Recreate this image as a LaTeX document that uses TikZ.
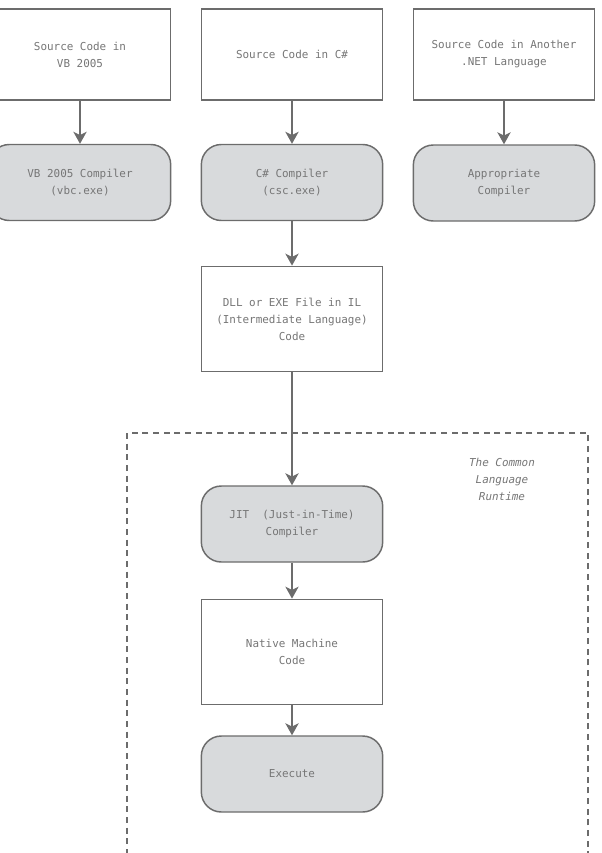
\documentclass[tikz,border=0pt]{standalone}
\usepackage{fontspec}
\setmonofont{DejaVu Sans Mono}
\usepackage{tikz}
\usetikzlibrary{arrows.meta}
\usepackage{xcolor}
\definecolor{edgegray}{RGB}{108, 108, 108}
\definecolor{textgray}{RGB}{118, 118, 118}
\definecolor{boxfill}{RGB}{216, 218, 220}

\begin{document}
\begin{tikzpicture}[x=0.75pt, y=-0.75pt, >={Stealth[width=10pt, length=9pt, inset=2.5pt]},
    every node/.style={font=\ttfamily\fontsize{8.2}{12.75}\selectfont, text=textgray, align=center},
    srcbox/.style={draw=edgegray, line width=1.1pt, fill=white, minimum width=136pt, minimum height=68pt},
    filebox/.style={draw=edgegray, line width=1.1pt, fill=white, minimum width=136pt, minimum height=79pt},
    compbox/.style={draw=edgegray, line width=1.1pt, fill=boxfill, rounded corners=15pt, minimum width=136pt, minimum height=57pt},
    flow/.style={->, draw=edgegray, line width=1.1pt}]

  \useasboundingbox (0,0) rectangle (601,853);

  % The Common Language Runtime frame
  \draw[edgegray, line width=0.9pt, dash pattern=on 4.5pt off 3.5pt] (127,433) rectangle (588,900);
  \node[font=\ttfamily\itshape\fontsize{8.2}{12.75}\selectfont] (clr) at (502,479) {The Common\\Language\\Runtime};

  % Source code
  \node[srcbox] (srcvb) at (80,54.5) {Source Code in\\VB 2005};
  \node[srcbox] (srccs) at (292,54.5) {Source Code in C\#};
  \node[srcbox] (srcnet) at (504,54.5) {Source Code in Another\\.NET Language};

  % Compilers
  \node[compbox] (vbc) at (80,182.5) {VB 2005 Compiler\\(vbc.exe)};
  \node[compbox] (csc) at (292,182.5) {C\# Compiler\\(csc.exe)};
  \node[compbox] (netc) at (504,183) {Appropriate\\Compiler};

  % IL file
  \node[filebox] (il) at (292,319) {DLL or EXE File in IL\\(Intermediate Language)\\Code};

  % Inside the runtime
  \node[compbox] (jit) at (292,524) {JIT\ \ (Just-in-Time)\\Compiler};
  \node[filebox] (native) at (292,652) {Native Machine\\Code};
  \node[compbox] (exec) at (292,774) {Execute};

  % Connectors
  \draw[flow] (srcvb) -- (vbc);
  \draw[flow] (srccs) -- (csc);
  \draw[flow] (srcnet) -- (netc);
  \draw[flow] (csc) -- (il);
  \draw[flow] (il) -- (jit);
  \draw[flow] (jit) -- (native);
  \draw[flow] (native) -- (exec);

\end{tikzpicture}
\end{document}
